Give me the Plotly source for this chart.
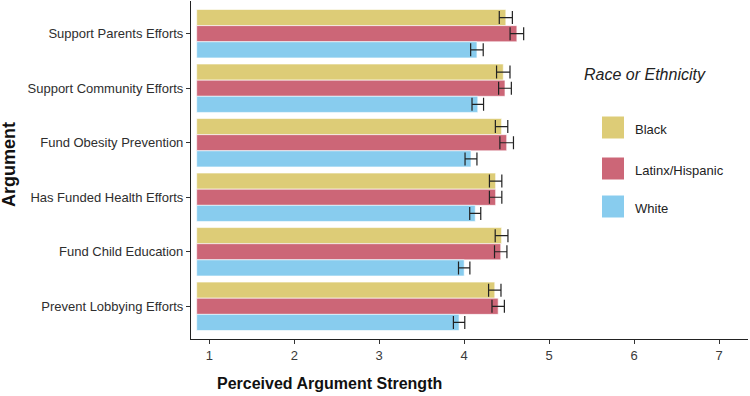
import plotly.graph_objects as go

# ---- data ----
categories = ["Support Parents Efforts", "Support Community Efforts", "Fund Obesity Prevention",
              "Has Funded Health Efforts", "Fund Child Education", "Prevent Lobbying Efforts"]
series_names = ["Black", "Latinx/Hispanic", "White"]
black = [4.49, 4.46, 4.44, 4.37, 4.44, 4.36]
latinx = [4.62, 4.48, 4.50, 4.37, 4.43, 4.40]
white = [4.15, 4.16, 4.08, 4.13, 4.00, 3.94]
black_err = [0.077, 0.079, 0.073, 0.073, 0.075, 0.073]
latinx_err = [0.080, 0.075, 0.080, 0.073, 0.073, 0.073]
white_err = [0.074, 0.068, 0.070, 0.065, 0.067, 0.067]
x_ticks = [1, 2, 3, 4, 5, 6, 7]

colors = ["#DDCC77", "#CC6677", "#88CCEE"]
values = [black, latinx, white]
errors = [black_err, latinx_err, white_err]
BAR_BASE = 0.852

# plot area in pixels
W, H = 750, 396
L, R, T, B = 191, 2, 1, 57
PW, PH = W - L - R, H - T - B


def px(xp):
    return (xp - L) / PW


def py(yp):
    return (H - B - yp) / PH


fig = go.Figure()
for name, col, vals, errs in zip(series_names, colors, values, errors):
    fig.add_trace(go.Bar(
        y=categories, x=[v - BAR_BASE for v in vals], base=BAR_BASE, name=name,
        orientation="h", marker=dict(color=col, line=dict(color="rgba(255,255,255,0.6)", width=1)),
        error_x=dict(type="data", array=errs, color="#222222", thickness=1.2, width=6.5),
        showlegend=False,
    ))

font = "Liberation Sans, Arial, sans-serif"
fig.update_layout(
    width=W, height=H, margin=dict(l=L, r=R, t=T, b=B, pad=0),
    paper_bgcolor="white", plot_bgcolor="white",
    barmode="group", bargap=0.112, bargroupgap=0,
    font=dict(family=font, size=13, color="#333333"),
    xaxis=dict(range=[0.785, 7.34], tickvals=x_ticks, showgrid=False, zeroline=False,
               showline=True, linecolor="#222222", linewidth=1.1, ticks="outside", ticklen=4,
               tickcolor="#333333", tickfont=dict(size=13, color="#3a3a3a")),
    yaxis=dict(categoryorder="array", categoryarray=categories, range=[5.6, -0.6],
               showgrid=False, zeroline=False, showline=True, linecolor="#222222", linewidth=1.1,
               ticks="outside", ticklen=4, tickcolor="#333333",
               tickfont=dict(size=13, color="#2e2e2e")),
)

annotations = [
    dict(text="<b>Perceived Argument Strength</b>", x=px(329), y=py(383), xref="paper", yref="paper",
         showarrow=False, font=dict(size=16, color="#111111"), xanchor="center", yanchor="middle"),
    dict(text="<b>Argument</b>", x=px(9), y=py(165), xref="paper", yref="paper", textangle=-90,
         showarrow=False, font=dict(size=18, color="#111111"), xanchor="center", yanchor="middle"),
    dict(text="<i>Race or Ethnicity</i>", x=px(582), y=py(74), xref="paper", yref="paper",
         showarrow=False, font=dict(size=16, color="#222222"), xanchor="left", yanchor="middle"),
]
shapes = []
key_y = [127.5, 168.5, 206.5]
label_y = [130, 170, 208]
for name, col, ky, ly in zip(series_names, colors, key_y, label_y):
    shapes.append(dict(type="rect", xref="paper", yref="paper", x0=px(602), x1=px(624),
                       y0=py(ky + 11), y1=py(ky - 11), fillcolor=col, line=dict(width=0)))
    annotations.append(dict(text=name, x=px(633), y=py(ly), xref="paper", yref="paper",
                            showarrow=False, font=dict(size=13, color="#222222"),
                            xanchor="left", yanchor="middle"))
fig.update_layout(annotations=annotations, shapes=shapes)

fig.write_html("out.html", config={"displayModeBar": False},
               post_script="document.body.style.margin='0';document.body.style.padding='0';")
